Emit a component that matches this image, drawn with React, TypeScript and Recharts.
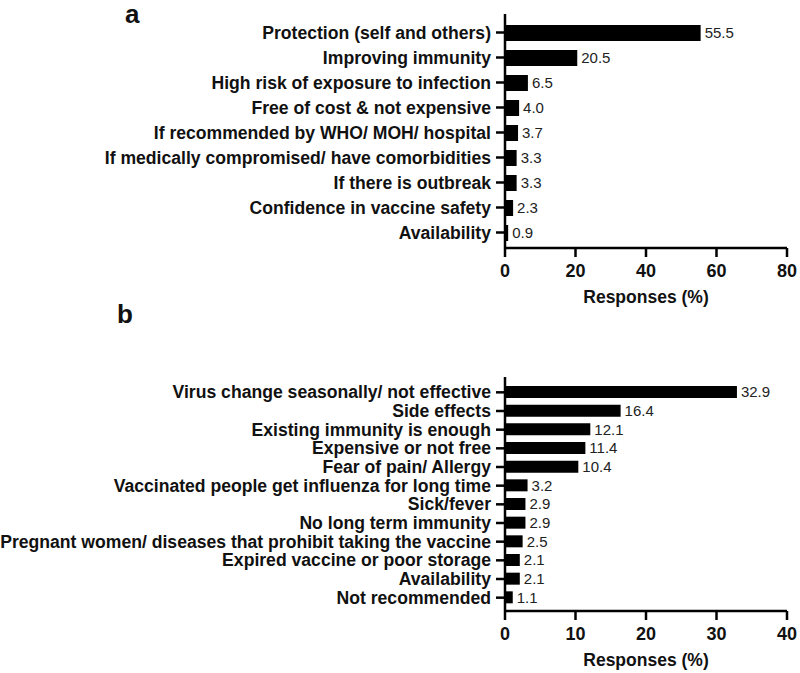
import { BarChart, Bar, XAxis, YAxis, LabelList } from "recharts"

const reasonsFor = [
  'Protection (self and others)',
  'Improving immunity',
  'High risk of exposure to infection',
  'Free of cost & not expensive',
  'If recommended by WHO/ MOH/ hospital',
  'If medically compromised/ have comorbidities',
  'If there is outbreak',
  'Confidence in vaccine safety',
  'Availability',
];
const reasonsForValues = [55.5, 20.5, 6.5, 4.0, 3.7, 3.3, 3.3, 2.3, 0.9];
const ticksA = [0, 20, 40, 60, 80];

const reasonsAgainst = [
  'Virus change seasonally/ not effective',
  'Side effects',
  'Existing immunity is enough',
  'Expensive or not free',
  'Fear of pain/ Allergy',
  'Vaccinated people get influenza for long time',
  'Sick/fever',
  'No long term immunity',
  'Pregnant women/ diseases that prohibit taking the vaccine',
  'Expired vaccine or poor storage',
  'Availability',
  'Not recommended',
];
const reasonsAgainstValues = [32.9, 16.4, 12.1, 11.4, 10.4, 3.2, 2.9, 2.9, 2.5, 2.1, 2.1, 1.1];
const ticksB = [0, 10, 20, 30, 40];

const FONT = '"Liberation Sans", Arial, Helvetica, sans-serif';

const dataA = reasonsFor.map((name, i) => ({ name, value: reasonsForValues[i] }));
const dataB = reasonsAgainst.map((name, i) => ({ name, value: reasonsAgainstValues[i] }));

// plain text tick so long labels never wrap
function CategoryTick(props: any) {
  const { x, y, payload } = props;
  return (
    <text x={x - 3} y={y} dy={6} textAnchor="end" fontSize={17.6} fontWeight={700}
      fill="#111" fontFamily={FONT}>
      {payload.value}
    </text>
  );
}

function NumberTick(props: any) {
  const { x, y, payload } = props;
  return (
    <text x={x} y={y} dy={18} textAnchor="middle" fontSize={18} fontWeight={700}
      fill="#111" fontFamily={FONT}>
      {payload.value}
    </text>
  );
}

interface PanelProps {
  data: { name: string; value: number }[];
  ticks: number[];
  max: number;
  height: number;
  top: number;
  barSize: number;
  pad: { top: number; bottom: number };
}

function Panel({ data, ticks, max, height, top, barSize, pad }: PanelProps) {
  return (
    <BarChart
      width={800}
      height={height}
      data={data}
      layout="vertical"
      margin={{ top, right: 13, left: 0, bottom: 0 }}
      style={{ fontFamily: FONT }}
    >
      <XAxis
        type="number"
        domain={[0, max]}
        ticks={ticks}
        interval={0}
        height={62}
        stroke="#000"
        strokeWidth={2.5}
        tickSize={9}
        tick={<NumberTick />}
        label={{ value: 'Responses (%)', position: 'insideBottom', offset: 7, fontSize: 17.5, fontWeight: 700, fill: '#111' }}
      />
      <YAxis
        type="category"
        dataKey="name"
        width={505}
        stroke="#000"
        strokeWidth={2.5}
        tickSize={9}
        interval={0}
        padding={pad}
        tick={<CategoryTick />}
      />
      <Bar dataKey="value" fill="#000" barSize={barSize} isAnimationActive={false}>
        <LabelList dataKey="value" position="right" offset={4} fontSize={15} fill="#222"
          formatter={(v: any) => Number(v).toFixed(1)} />
      </Bar>
    </BarChart>
  );
}

export default function App() {
  return (
    <div style={{ position: 'absolute', left: 0, top: 0, width: 800, height: 673, background: '#fff', fontFamily: FONT }}>
      <div style={{ position: 'absolute', left: 125, top: 1, fontSize: 26, lineHeight: 1, fontWeight: 700, color: '#111' }}>a</div>
      <div style={{ position: 'absolute', left: 117, top: 301, fontSize: 26, lineHeight: 1, fontWeight: 700, color: '#111' }}>b</div>
      <div style={{ position: 'absolute', left: 0, top: 0 }}>
        <Panel data={dataA} ticks={ticksA} max={80} height={310} top={14} barSize={16} pad={{ top: 6, bottom: 3 }} />
      </div>
      <div style={{ position: 'absolute', left: 0, top: 330 }}>
        <Panel data={dataB} ticks={ticksB} max={40} height={343} top={47} barSize={12} pad={{ top: 6, bottom: 4 }} />
      </div>
    </div>
  );
}
